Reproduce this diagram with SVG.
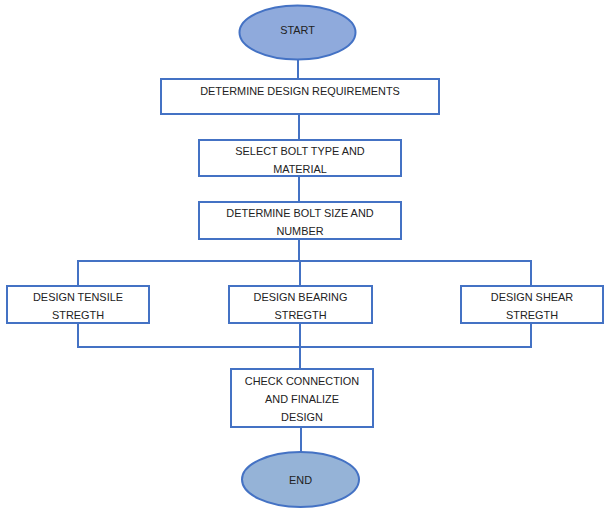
<svg xmlns="http://www.w3.org/2000/svg" width="605" height="518" viewBox="0 0 605 518">
<style>
.box{fill:#ffffff;stroke:#4472c4;stroke-width:2}
.term{stroke:#4472c4;stroke-width:2}
.ln{fill:none;stroke:#4472c4;stroke-width:2}
text{font-family:"Liberation Sans",Arial,sans-serif;font-size:10.9px;fill:#222222;text-anchor:middle;dominant-baseline:central}
</style>
<rect width="605" height="518" fill="#ffffff"/>
<g id="connectors">
<path class="ln" d="M298 60V79"/>
<path class="ln" d="M299 114V140"/>
<path class="ln" d="M299 176V202"/>
<path class="ln" d="M299 239V261"/>
<path class="ln" d="M78 286V261H531V286"/>
<path class="ln" d="M300 261V286"/>
<path class="ln" d="M78 323V347H531V323"/>
<path class="ln" d="M300 323V369"/>
<path class="ln" d="M301 427V452"/>
</g>
<g id="start"><ellipse class="term" cx="297.5" cy="32.5" rx="58" ry="27" fill="#8faadc"/><text x="297.5" y="30">START</text></g>
<g id="req"><rect class="box" x="161" y="79" width="278" height="35"/><text x="300" y="91">DETERMINE DESIGN REQUIREMENTS</text></g>
<g id="bolt"><rect class="box" x="199" y="140" width="202" height="36"/><text x="300" y="151">SELECT BOLT TYPE AND</text><text x="300" y="169">MATERIAL</text></g>
<g id="size"><rect class="box" x="199" y="202" width="202" height="37"/><text x="300" y="213">DETERMINE BOLT SIZE AND</text><text x="300" y="231">NUMBER</text></g>
<g id="tensile"><rect class="box" x="7" y="286" width="142" height="37"/><text x="78" y="297">DESIGN TENSILE</text><text x="78" y="315">STREGTH</text></g>
<g id="bearing"><rect class="box" x="229" y="286" width="143" height="37"/><text x="300.5" y="297">DESIGN BEARING</text><text x="300.5" y="315">STREGTH</text></g>
<g id="shear"><rect class="box" x="461" y="286" width="142" height="37"/><text x="532" y="297">DESIGN SHEAR</text><text x="532" y="315">STREGTH</text></g>
<g id="check"><rect class="box" x="231" y="369" width="142" height="58"/><text x="302" y="381">CHECK CONNECTION</text><text x="302" y="399">AND FINALIZE</text><text x="302" y="417">DESIGN</text></g>
<g id="end"><ellipse class="term" cx="300.5" cy="479.5" rx="58.5" ry="27.5" fill="#95b3d7"/><text x="300.5" y="480">END</text></g>
</svg>
